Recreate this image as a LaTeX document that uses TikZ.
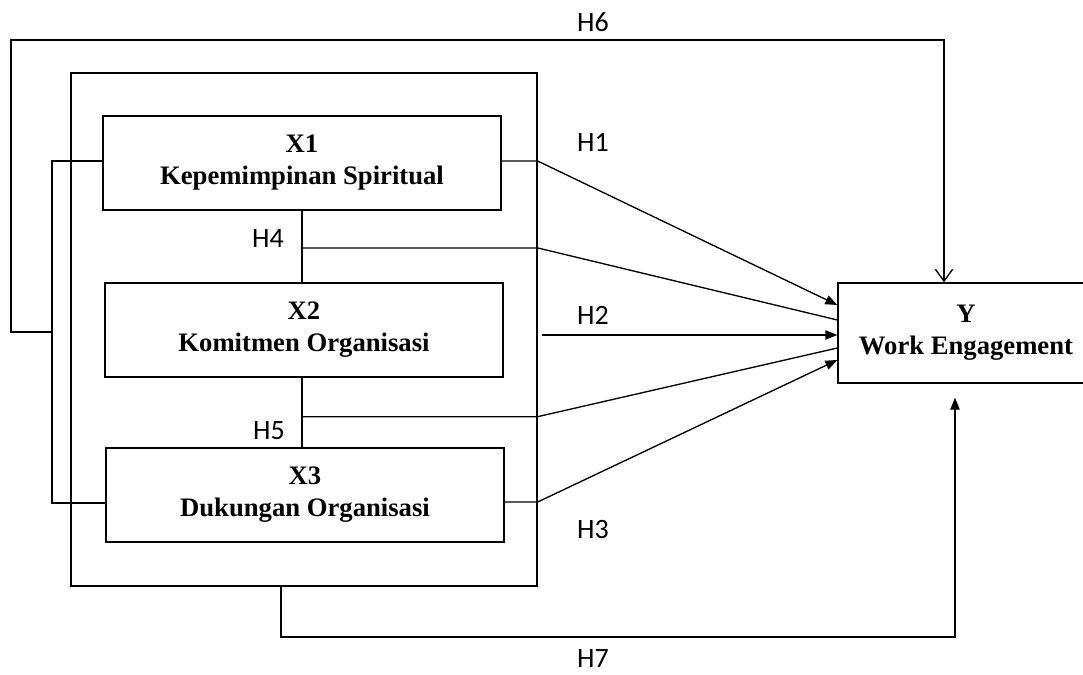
\documentclass[tikz,border=0pt]{standalone}
\usepackage{fontspec}
\setmainfont{Liberation Serif}
\newfontfamily\hypfont{Carlito}
\usetikzlibrary{arrows.meta,calc,positioning}

\begin{document}
\begin{tikzpicture}[x=0.75pt,y=0.75pt,yscale=-1,xscale=1,
  varbox/.style={draw,line width=1pt,minimum width=298.5pt,minimum height=70.5pt,inner sep=0pt,align=center,font=\fontsize{20}{24}\selectfont\bfseries},
  hyp/.style={font=\hypfont\fontsize{21}{24}\selectfont,inner sep=0pt},
  link/.style={line width=1pt},
  tip/.style={link,-{Triangle[length=9pt,width=7pt]}},
  opentip/.style={link,-{Straight Barb[length=9pt,width=13pt]}}]
\useasboundingbox (0,0) rectangle (1083,675);

%Shape: outer frame
\node (frame) [draw,line width=1pt,minimum width=349.5pt,minimum height=384.75pt] at (304,329.5) {};

% variables
\node (kepemimpinan) [varbox] at (302,163) {X1\\Kepemimpinan Spiritual};
\node (komitmen) [varbox] at (304,330) {X2\\Komitmen Organisasi};
\node (dukungan) [varbox] at (305,495) {X3\\Dukungan Organisasi};
\node (engagement) [varbox,minimum width=192pt,minimum height=75pt] at (966,333) {Y\\Work Engagement};

% helper coordinates
\coordinate (h4) at ($(kepemimpinan.south)!0.52!(kepemimpinan.south |- komitmen.north)$);
\coordinate (h5) at ($(kepemimpinan.south |- komitmen.south)!0.56!(kepemimpinan.south |- dukungan.north)$);
\coordinate (bracket) at (52,332);
\coordinate (h6corner) at (944,40);
\coordinate (h7corner) at (955,637);
\coordinate (h2start) at (542,335);

% H1, H2, H3
\draw [tip] ($(kepemimpinan.east)+(0,-2)$) -- ($(kepemimpinan.east -| frame.east)+(0,-2)$) -- ($(engagement.west)+(0,-28)$);
\draw [tip] (h2start) -- (h2start -| engagement.west);
\draw [tip] ($(dukungan.east)+(0,7)$) -- ($(dukungan.east -| frame.east)+(0,7)$) -- ($(engagement.west)+(0,27)$);

% H4, H5
\draw [link] (kepemimpinan.south) -- (kepemimpinan.south |- komitmen.north);
\draw [link] (h4) -- (h4 -| frame.east) -- ($(engagement.west)+(0,-13)$);
\draw [link] (kepemimpinan.south |- komitmen.south) -- (kepemimpinan.south |- dukungan.north);
\draw [link] (h5) -- (h5 -| frame.east) -- ($(engagement.west)+(0,15)$);

% H6
\draw [link] ($(kepemimpinan.west)+(0,-2)$) -| (bracket) |- ($(dukungan.west)+(0,8)$);
\draw [opentip] (bracket) -- (11,332) |- (h6corner) -- (h6corner |- engagement.north);

% H7
\draw [tip] ($(frame.south)+(-23,0)$) |- (h7corner) -- ($(h7corner |- engagement.south)+(0,14)$);

% Text Node
\node (lh1) [hyp] at (593,142) {H1};
\node (lh2) [hyp] at (593,315) {H2};
\node (lh3) [hyp] at (593,530) {H3};
\node (lh4) [hyp] at (268,239) {H4};
\node (lh5) [hyp] at (269,431) {H5};
\node (lh6) [hyp] at (593,22) {H6};
\node (lh7) [hyp] at (593,659) {H7};

\end{tikzpicture}
\end{document}
